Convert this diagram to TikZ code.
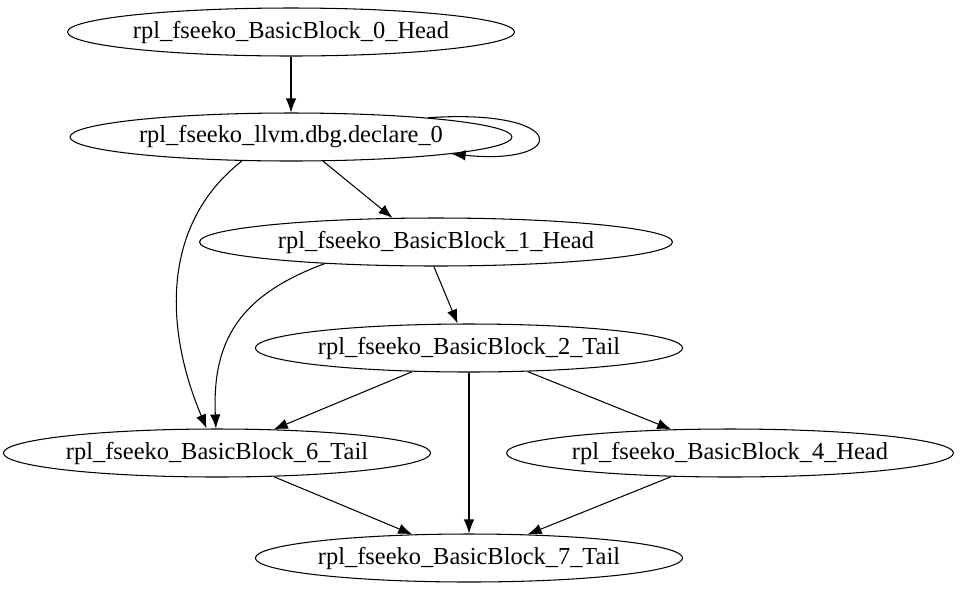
\documentclass[tikz,border=0pt]{standalone}
\usepackage{fontspec}
\setmainfont{Liberation Serif}
\usetikzlibrary{shapes,arrows.meta}
\tikzset{
    bb/.style = {draw, ellipse, inner sep=0pt,
        minimum height=0.96cm, font=\fontsize{13.9}{16}\selectfont},
    arrow/.style={draw, -{Latex[length=0.28cm,width=0.21cm]}}
}

\begin{document}
\begin{tikzpicture}[x=0.02cm, y=-0.02cm, line width=0.6pt]
    \useasboundingbox (0,0) rectangle (960,593);
    \node [bb, minimum width=8.88cm] (head0) at (291,32) {rpl\_fseeko\_BasicBlock\_0\_Head};
    \node [bb, minimum width=8.84cm] (dbg) at (291,137) {rpl\_fseeko\_llvm.dbg.declare\_0};
    \node [bb, minimum width=9.46cm] (head1) at (436,242) {rpl\_fseeko\_BasicBlock\_1\_Head};
    \node [bb, minimum width=8.42cm] (tail2) at (469,348) {rpl\_fseeko\_BasicBlock\_2\_Tail};
    \node [bb, minimum width=8.46cm] (tail6) at (217,453) {rpl\_fseeko\_BasicBlock\_6\_Tail};
    \node [bb, minimum width=8.82cm] (head4) at (730,453) {rpl\_fseeko\_BasicBlock\_4\_Head};
    \node [bb, minimum width=8.42cm] (tail7) at (469,558) {rpl\_fseeko\_BasicBlock\_7\_Tail};
    \draw [arrow] (head0) -- (dbg);
    \draw [arrow] (dbg.8) .. controls (570,108) and (570,166) .. (dbg.-6);
    \draw [arrow] (dbg.-37) -- (head1.151);
    \draw [arrow] (dbg.206) .. controls (160,225) and (165,330) .. (tail6);
    \draw [arrow] (head1.191) .. controls (240,295) and (212,340) .. (tail6);
    \draw [arrow] (head1.-95) -- (tail2.115);
    \draw [arrow] (tail2) -- (tail6);
    \draw [arrow] (tail2) -- (tail7);
    \draw [arrow] (tail2) -- (head4);
    \draw [arrow] (tail6) -- (tail7);
    \draw [arrow] (head4) -- (tail7);
\end{tikzpicture}
\end{document}
